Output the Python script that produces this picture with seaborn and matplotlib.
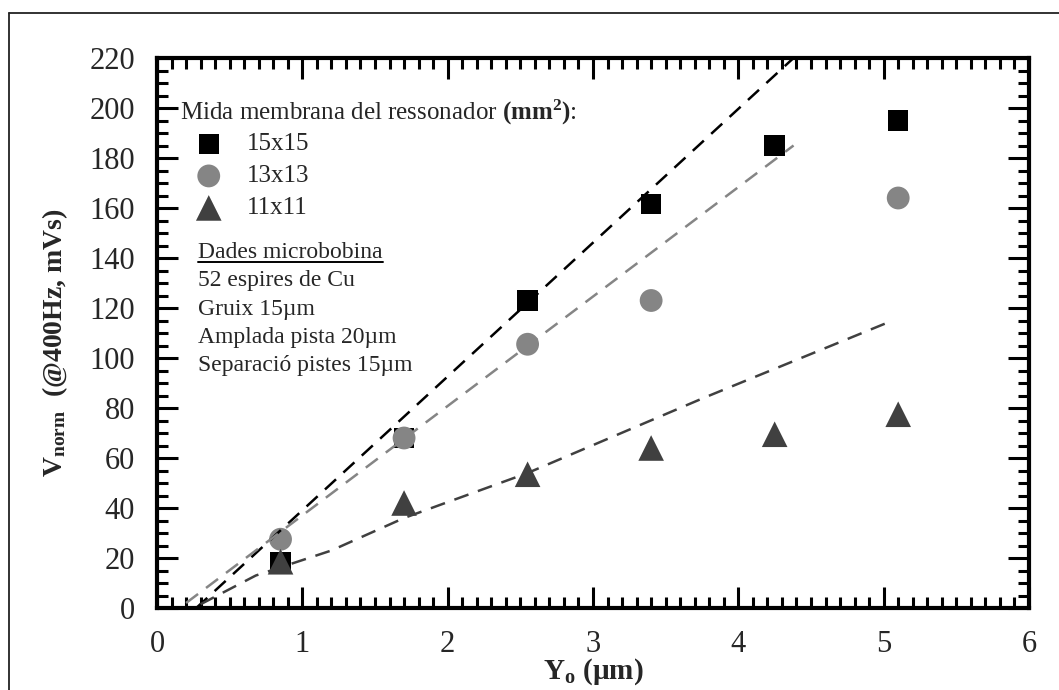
import numpy as np
import pandas as pd
import matplotlib
matplotlib.use('Agg')
import matplotlib.pyplot as plt
import seaborn as sns
from matplotlib.lines import Line2D
from matplotlib.ticker import MultipleLocator

# Y0 positions (um) and normalised voltage for each membrane size
y0_15 = [0.85, 1.7, 2.55, 3.4, 4.25, 5.1]
v_15 = [18.5, 68, 123, 161.5, 185, 195]
y0_13 = [0.85, 1.7, 2.55, 3.4, 5.1]
v_13 = [27.5, 68, 105.5, 123, 164]
y0_11 = [0.85, 1.7, 2.55, 3.4, 4.25, 5.1]
v_11 = [18.5, 42, 53.5, 64, 69.5, 77.5]

# dashed trend lines
fit15_x = [0.27, 4.38]
fit15_y = [0, 220]
fit13_x = [0.2, 4.38]
fit13_y = [2, 185]
fit11_x = [0.3, 0.68, 1.2, 1.7, 2.55, 3.76, 5.02]
fit11_y = [1.5, 13, 23, 36, 54, 84, 114]

series_labels = ['15x15', '13x13', '11x11']
info_lines = ['52 espires de Cu', 'Gruix 15µm', 'Amplada pista 20µm', 'Separació pistes 15µm']

sns.set_style('ticks')
plt.rcParams['font.family'] = ['Liberation Serif', 'DejaVu Serif']
plt.rcParams['mathtext.fontset'] = 'custom'
plt.rcParams['mathtext.rm'] = 'Liberation Serif'
plt.rcParams['mathtext.bf'] = 'Liberation Serif:bold'
plt.rcParams['mathtext.it'] = 'Liberation Serif:italic'

fig = plt.figure(figsize=(10.59, 6.90), dpi=100)
ax = fig.add_axes([157 / 1059, 1 - 608 / 690, (1029 - 157) / 1059, (608 - 58) / 690])

sns.scatterplot(x=y0_15, y=v_15, marker='s', s=215, color='black', edgecolor='none',
                label=series_labels[0], ax=ax, zorder=3)
sns.scatterplot(x=y0_13, y=v_13, marker='o', s=270, color='#858585', edgecolor='none',
                label=series_labels[1], ax=ax, zorder=3)
sns.scatterplot(x=y0_11, y=v_11, marker='^', s=340, color='#404040', edgecolor='none',
                label=series_labels[2], ax=ax, zorder=3)

for fx, fy, col in [(fit15_x, fit15_y, 'black'), (fit13_x, fit13_y, '#858585'),
                    (fit11_x, fit11_y, '#404040')]:
    sns.lineplot(x=fx, y=fy, color=col, linewidth=1.8, linestyle=(0, (6, 4)),
                 sort=False, ax=ax, zorder=4)

ax.set_xlim(0, 6)
ax.set_ylim(0, 220)
ax.xaxis.set_major_locator(MultipleLocator(1))
ax.xaxis.set_minor_locator(MultipleLocator(0.1))
ax.yaxis.set_major_locator(MultipleLocator(20))
ax.yaxis.set_minor_locator(MultipleLocator(5))
ax.tick_params(which='both', direction='in', top=True, right=True, width=2.2, color='black')
ax.tick_params(which='major', length=15, labelsize=22, pad=16)
ax.tick_params(which='minor', length=8)
for sp in ax.spines.values():
    sp.set_linewidth(3)
    sp.set_color('black')

ax.set_xlabel(r'$\mathbf{Y_o}$ (µm)', fontsize=21, fontweight='bold', labelpad=-2)
ax.set_ylabel(r'$\mathbf{V_{norm}}$  (@400Hz, mVs)', fontsize=20, fontweight='bold', va='center')
ax.yaxis.set_label_coords((55 - 157) / 872, (608 - 343) / 550)

# legend
handles, labels = ax.get_legend_handles_labels()
ax.legend(handles, labels, loc='upper left', bbox_to_anchor=(190 / 1059, 1 - 133 / 690),
          bbox_transform=fig.transFigure, frameon=False, fontsize=18, borderpad=0,
          handlelength=1.5, handletextpad=0.78, labelspacing=0.38, borderaxespad=0)

ax.text(180 / 1059, 1 - 112 / 690, r'Mida membrana del ressonador $\mathbf{(mm^2)}$:',
        transform=fig.transFigure, fontsize=18, va='center', ha='left')

head = ax.text(198 / 1059, 1 - 253 / 690, 'Dades microbobina', transform=fig.transFigure,
               fontsize=17, va='center', ha='left')
for i, line in enumerate(info_lines):
    ax.text(198 / 1059, 1 - (281 + 28 * i) / 690, line, transform=fig.transFigure,
            fontsize=17, va='center', ha='left')

# underline the heading
fig.canvas.draw()
bb = head.get_window_extent(renderer=fig.canvas.get_renderer())
bbf = bb.transformed(fig.transFigure.inverted())
fig.add_artist(Line2D([bbf.x0, bbf.x1], [bbf.y0 + 0.002, bbf.y0 + 0.002],
                      transform=fig.transFigure, color='black', linewidth=1.4))

# outer frame (top and left)
fx0 = 8.5 / 1059
fy0 = 1 - 13 / 690
fig.add_artist(Line2D([fx0, 1], [fy0, fy0], transform=fig.transFigure, color='#222222', linewidth=1.3))
fig.add_artist(Line2D([fx0, fx0], [fy0, 0], transform=fig.transFigure, color='#222222', linewidth=1.3))

fig.savefig('out.png', dpi=100)
